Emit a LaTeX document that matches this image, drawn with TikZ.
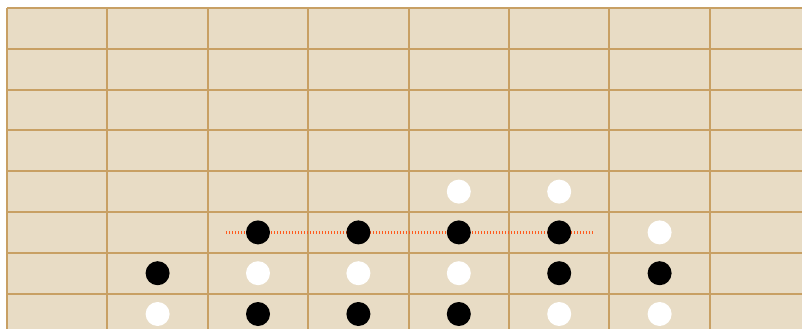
\documentclass[tikz,border=0pt]{standalone}
\usepackage{xcolor}
\usetikzlibrary{calc}
\definecolor{boardbg}{HTML}{E8DCC5}
\definecolor{gridln}{HTML}{C8A064}
\definecolor{winln}{HTML}{FF5A1E}
\tikzset{
  gridline/.style = {draw=gridln, line width=2pt},
  bstone/.style   = {circle, fill=black, minimum size=24pt, inner sep=0pt},
  wstone/.style   = {circle, fill=white, minimum size=24pt, inner sep=0pt},
  winrow/.style   = {draw=winln, line width=2.4pt, dash pattern=on 1.4pt off 1.6pt},
}
\newcommand{\cx}[1]{7+100.4*(#1+0.5)}
\newcommand{\ry}[1]{8+40.8*(#1+0.5)}
\begin{document}
\begin{tikzpicture}[x=1pt, y=-1pt]
  \useasboundingbox (0,0) rectangle (802,329);
  % board
  \fill[boardbg] (7,8) rectangle (802,329);
  \foreach \r in {0,...,7}
    \draw[gridline] (7,{8+40.8*\r}) -- (802,{8+40.8*\r});
  \foreach \c in {0,...,7}
    \draw[gridline] ({7+100.4*\c},8) -- ({7+100.4*\c},329);
  % four in a row
  \coordinate (ws) at ({\cx{2}-32},{\ry{5}});
  \coordinate (we) at ({\cx{5}+34},{\ry{5}});
  \draw[winrow] (ws) -- (we);
  % stones
  \foreach \c/\r in {2/5,3/5,4/5,5/5,1/6,5/6,6/6,2/7,3/7,4/7}
    \node[bstone] (b\c\r) at ({\cx{\c}},{\ry{\r}}) {};
  \foreach \c/\r in {4/4,5/4,6/5,2/6,3/6,4/6,1/7,5/7,6/7}
    \node[wstone] (w\c\r) at ({\cx{\c}},{\ry{\r}}) {};
\end{tikzpicture}
\end{document}
